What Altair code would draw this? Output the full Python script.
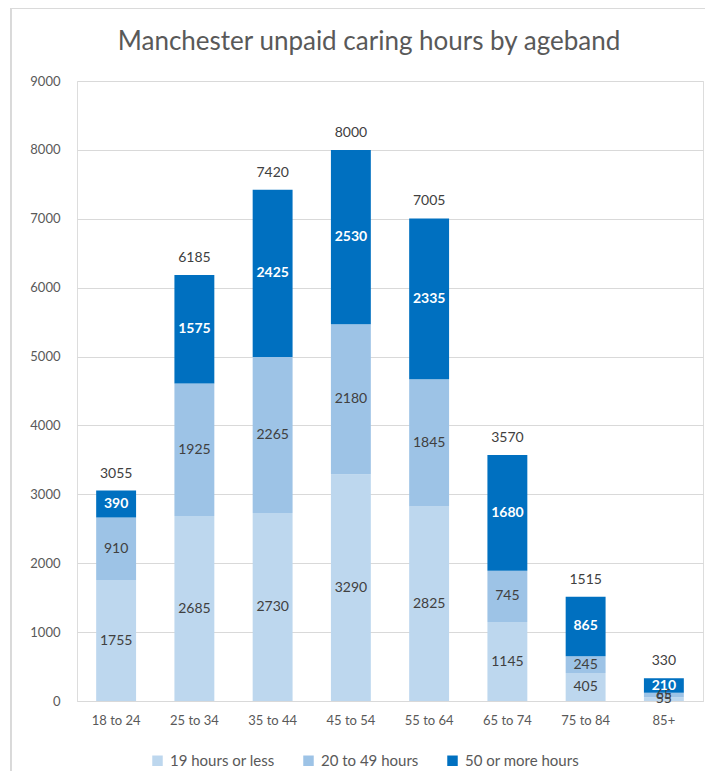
import altair as alt
import pandas as pd

ages = ["18 to 24", "25 to 34", "35 to 44", "45 to 54", "55 to 64", "65 to 74", "75 to 84", "85+"]
series = ["19 hours or less", "20 to 49 hours", "50 or more hours"]
low = [1755, 2685, 2730, 3290, 2825, 1145, 405, 55]
mid = [910, 1925, 2265, 2180, 1845, 745, 245, 65]
high = [390, 1575, 2425, 2530, 2335, 1680, 865, 210]
totals = [3055, 6185, 7420, 8000, 7005, 3570, 1515, 330]
colors = ["#BDD7EE", "#9DC3E6", "#0070C0"]

rows = []
for i, a in enumerate(ages):
    for j, (s, vals) in enumerate(zip(series, [low, mid, high])):
        rows.append({"age": a, "series": s, "order": j, "value": vals[i]})
df = pd.DataFrame(rows)
tot = pd.DataFrame({"age": ages, "total": totals})

FONT = "Lato"
W, H = 626, 620

x = alt.X("age:N", sort=ages, title=None,
          scale=alt.Scale(paddingInner=0.49, paddingOuter=0.245),
          axis=alt.Axis(labelAngle=0, labelColor="#595959", labelFontSize=13, labelFont=FONT,
                        domainColor="#D9D9D9", ticks=False, labelPadding=13))
yscale = alt.Scale(domain=[0, 9000], nice=False)

bars = alt.Chart(df).mark_bar().encode(
    x=x,
    y=alt.Y("value:Q", stack="zero", scale=yscale, title=None,
            axis=alt.Axis(values=list(range(0, 9001, 1000)), format="d", labelColor="#595959",
                          labelFontSize=13, labelFont=FONT, domain=False, ticks=False,
                          gridColor="#D9D9D9", labelPadding=17)),
    color=alt.Color("series:N", sort=series, scale=alt.Scale(domain=series, range=colors),
                    legend=alt.Legend(title=None, orient="none", legendX=73, legendY=672,
                                      direction="horizontal", symbolType="square", symbolSize=110,
                                      symbolStrokeWidth=0, labelFontSize=15, labelFont=FONT,
                                      labelColor="#595959", columnPadding=26, labelOffset=5)),
    order=alt.Order("order:Q"),
)

seg = alt.Chart(df).transform_stack(
    stack="value", as_=["y0", "y1"], groupby=["age"], sort=[alt.SortField("order")]
).transform_calculate(ymid="(datum.y0 + datum.y1) / 2")

seg_light = seg.transform_filter("datum.order < 2").mark_text(
    font=FONT, fontSize=14, color="#404040", baseline="middle"
).encode(x=alt.X("age:N", sort=ages), y=alt.Y("ymid:Q", scale=yscale), text="value:Q")

seg_dark = seg.transform_filter("datum.order == 2").mark_text(
    font=FONT, fontSize=14, color="white", fontWeight="bold", baseline="middle"
).encode(x=alt.X("age:N", sort=ages), y=alt.Y("ymid:Q", scale=yscale), text="value:Q")

total_text = alt.Chart(tot).mark_text(
    font=FONT, fontSize=14, color="#404040", baseline="bottom", dy=-10
).encode(x=alt.X("age:N", sort=ages), y=alt.Y("total:Q", scale=yscale), text="total:Q")

left_border = alt.Chart(tot).mark_rule(color="#D9D9D9", strokeWidth=1).encode(
    x=alt.value(-66), y=alt.value(-73), y2=alt.value(H + 81))
top_border = alt.Chart(tot).mark_rule(color="#D9D9D9", strokeWidth=1).encode(
    x=alt.value(-66), x2=alt.value(W + 10), y=alt.value(-73))

chart = alt.layer(left_border, top_border, bars, seg_light, seg_dark, total_text).properties(
    width=W, height=H,
    title=alt.TitleParams("Manchester unpaid caring hours by ageband", fontSize=26, font=FONT,
                          fontWeight="normal", color="#595959", anchor="middle", dx=-21,
                          offset=-47),
    autosize=alt.AutoSizeParams(type="none"),
    padding={"left": 69, "top": 73, "right": 2, "bottom": 70},
).configure_view(stroke=None).configure(background="white")

chart.save("out.html", embed_options={"renderer": "svg", "actions": False})
